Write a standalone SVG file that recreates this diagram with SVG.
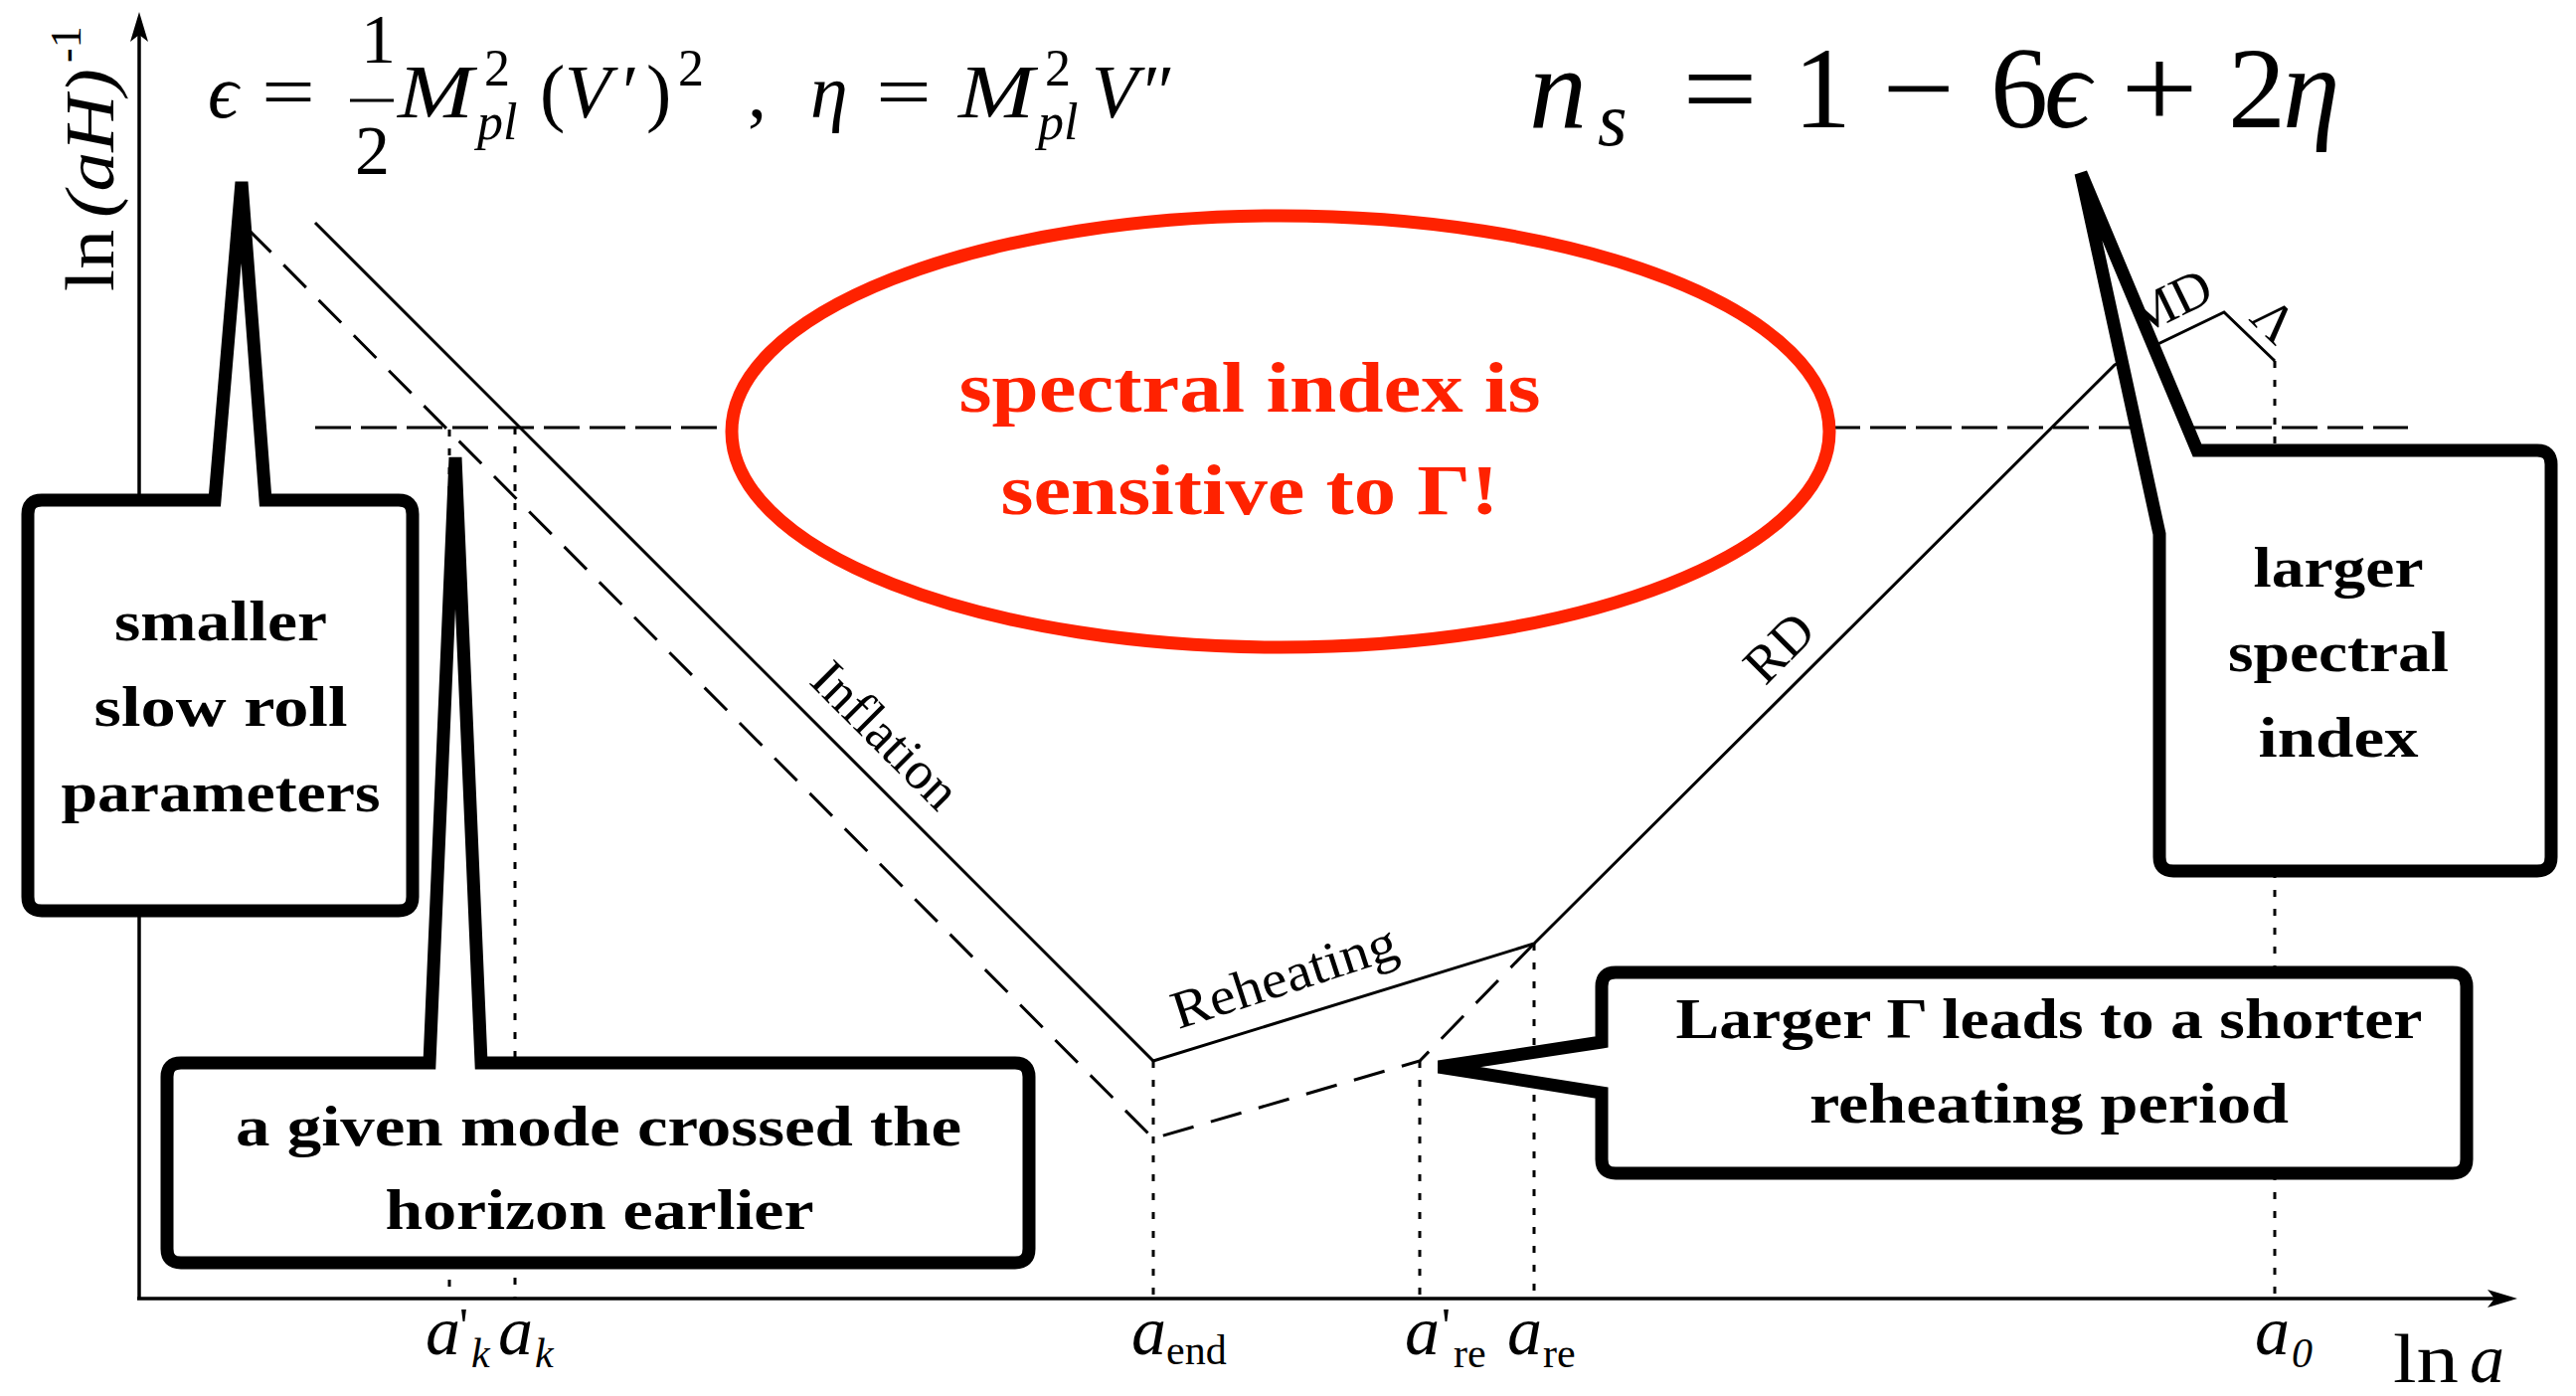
<svg xmlns="http://www.w3.org/2000/svg" width="2591" height="1404" viewBox="0 0 2591 1404">
<style>
.ax{stroke:#000;stroke-width:3.5;fill:none}
.sol{stroke:#000;stroke-width:3;fill:none;stroke-linejoin:miter}
.dsh{stroke:#000;stroke-width:3;fill:none;stroke-dasharray:32 18}
.hdsh{stroke:#000;stroke-width:3;fill:none;stroke-dasharray:36 10}
.dot{stroke:#000;stroke-width:3;fill:none;stroke-dasharray:7 12}
.box{fill:#fff;stroke:#000;stroke-width:13;stroke-linejoin:miter;stroke-miterlimit:4}
.red{fill:#fff;stroke:#ff2200;stroke-width:13}
.bt{font-family:"Liberation Serif",serif;font-weight:bold;font-size:58px;text-anchor:middle;fill:#000}
.rt{font-family:"Liberation Serif",serif;font-weight:bold;font-size:72px;text-anchor:middle;fill:#ff2200}
.lab{font-family:"Liberation Serif",serif;font-size:54px;text-anchor:middle;fill:#000}
.m{font-family:"Liberation Serif","DejaVu Serif",serif;fill:#000}
.i{font-style:italic}
</style>
<defs>
<marker id="arr" viewBox="0 0 30 20" refX="24" refY="10" markerWidth="30" markerHeight="20" markerUnits="userSpaceOnUse" orient="auto">
<path d="M0,1 L30,10 L0,19 L7,10 Z" fill="#000"/>
</marker>
</defs>

<g id="axes">
<line class="ax" x1="140" y1="1306" x2="140" y2="18" marker-end="url(#arr)"/>
<line class="ax" x1="138" y1="1306" x2="2526" y2="1306" marker-end="url(#arr)"/>
</g>

<g id="connectors">
<line class="hdsh" x1="317" y1="430" x2="2422" y2="430"/>
<line class="dot" x1="452" y1="432" x2="452" y2="1306"/>
<line class="dot" x1="518" y1="430" x2="518" y2="1306"/>
<line class="dot" x1="1160" y1="1067" x2="1160" y2="1306"/>
<line class="dot" x1="1428" y1="1067" x2="1428" y2="1306"/>
<line class="dot" x1="1543" y1="949" x2="1543" y2="1306"/>
<line class="dot" x1="2288" y1="363" x2="2288" y2="1306"/>
<polyline class="dsh" points="250,231 1160,1145 1428,1067 1543,949"/>
<polyline class="sol" points="317,224 1160,1067 1543,949 2127,367 2237,314 2288,363"/>
</g>

<g id="phase-labels">
<text class="lab" transform="translate(878,752) rotate(45)" textLength="185" lengthAdjust="spacingAndGlyphs">Inflation</text>
<text class="lab" transform="translate(1297,999) rotate(-18)" textLength="235" lengthAdjust="spacingAndGlyphs">Reheating</text>
<text class="lab" transform="translate(1802,664) rotate(-45)">RD</text>
<text class="lab" transform="translate(2190,320) rotate(-26)">MD</text>
<text class="lab" transform="translate(2275,335) rotate(44)">Λ</text>
</g>

<g id="node-sensitive">
<ellipse class="red" cx="1288" cy="434" rx="552" ry="217"/>
<text class="rt" x="1257" y="414" textLength="585" lengthAdjust="spacingAndGlyphs">spectral index is</text>
<text class="rt" x="1257" y="517" textLength="501" lengthAdjust="spacingAndGlyphs">sensitive to Γ!</text>
</g>

<g id="node-slowroll">
<path class="box" d="M216,503 L243,183 L267,503 L401,503 Q415,503 415,517 L415,902 Q415,916 401,916 L42,916 Q28,916 28,902 L28,517 Q28,503 42,503 Z"/>
<text class="bt" x="222" y="644" textLength="214" lengthAdjust="spacingAndGlyphs">smaller</text>
<text class="bt" x="222" y="730" textLength="255" lengthAdjust="spacingAndGlyphs">slow roll</text>
<text class="bt" x="222" y="816" textLength="321" lengthAdjust="spacingAndGlyphs">parameters</text>
</g>

<g id="node-mode">
<path class="box" d="M432,1069 L458,460 L484,1069 L1021,1069 Q1035,1069 1035,1083 L1035,1256 Q1035,1270 1021,1270 L182,1270 Q168,1270 168,1256 L168,1083 Q168,1069 182,1069 Z"/>
<text class="bt" x="602" y="1152" textLength="730" lengthAdjust="spacingAndGlyphs">a given mode crossed the</text>
<text class="bt" x="603" y="1236" textLength="431" lengthAdjust="spacingAndGlyphs">horizon earlier</text>
</g>

<g id="node-larger-index">
<path class="box" d="M2093,174 L2210,453 L2552,453 Q2566,453 2566,467 L2566,862 Q2566,876 2552,876 L2186,876 Q2172,876 2172,862 L2172,537 Z"/>
<text class="bt" x="2352" y="590" textLength="171" lengthAdjust="spacingAndGlyphs">larger</text>
<text class="bt" x="2352" y="675" textLength="222" lengthAdjust="spacingAndGlyphs">spectral</text>
<text class="bt" x="2352" y="761" textLength="161" lengthAdjust="spacingAndGlyphs">index</text>
</g>

<g id="node-reheating">
<path class="box" d="M1611,1048 L1447,1073 L1611,1099 L1611,1166 Q1611,1180 1625,1180 L2467,1180 Q2481,1180 2481,1166 L2481,992 Q2481,978 2467,978 L1625,978 Q1611,978 1611,992 Z"/>
<text class="bt" x="2061" y="1044" textLength="751" lengthAdjust="spacingAndGlyphs">Larger Γ leads to a shorter</text>
<text class="bt" x="2061" y="1129" textLength="482" lengthAdjust="spacingAndGlyphs">reheating period</text>
</g>

<g id="formula-slowroll" class="m" font-size="76">
<text x="209" y="118" class="m i">ϵ</text>
<text x="263" y="118" class="m" textLength="54" lengthAdjust="spacingAndGlyphs">=</text>
<text x="363" y="63" class="m" font-size="70">1</text>
<line x1="352" y1="101" x2="396" y2="101" stroke="#000" stroke-width="3"/>
<text x="357" y="175" class="m" font-size="70">2</text>
<text x="400" y="118" class="m i" textLength="76" lengthAdjust="spacingAndGlyphs">M</text>
<text x="487" y="86" class="m" font-size="52">2</text>
<text x="480" y="140" class="m i" font-size="52">pl</text>
<text x="543" y="118" class="m">(</text>
<text x="568" y="118" class="m i">V</text>
<text x="626" y="118" class="m">′</text>
<text x="650" y="118" class="m">)</text>
<text x="682" y="86" class="m" font-size="52">2</text>
<text x="752" y="118" class="m">,</text>
<text x="815" y="118" class="m i">η</text>
<text x="881" y="118" class="m" textLength="56" lengthAdjust="spacingAndGlyphs">=</text>
<text x="964" y="118" class="m i" textLength="76" lengthAdjust="spacingAndGlyphs">M</text>
<text x="1051" y="86" class="m" font-size="52">2</text>
<text x="1044" y="140" class="m i" font-size="52">pl</text>
<text x="1098" y="118" class="m i">V</text>
<text x="1150" y="118" class="m">″</text>
</g>

<g id="formula-ns" class="m" font-size="116">
<text x="1538" y="128" class="m i">n</text>
<text x="1607" y="146" class="m i" font-size="76">s</text>
<text x="1692" y="128" class="m" textLength="76" lengthAdjust="spacingAndGlyphs">=</text>
<text x="1804" y="128" class="m">1</text>
<text x="1893" y="128" class="m" textLength="73" lengthAdjust="spacingAndGlyphs">−</text>
<text x="2002" y="128" class="m">6</text>
<text x="2056" y="128" class="m i">ϵ</text>
<text x="2133" y="128" class="m" textLength="78" lengthAdjust="spacingAndGlyphs">+</text>
<text x="2241" y="128" class="m">2</text>
<text x="2296" y="128" class="m i">η</text>
</g>

<g id="axis-labels" class="m">
<g transform="translate(114,293) rotate(-90)">
<text x="0" y="0" class="m" font-size="70" textLength="62" lengthAdjust="spacingAndGlyphs">ln</text>
<text x="74" y="0" class="m i" font-size="70" textLength="150" lengthAdjust="spacingAndGlyphs">(aH)</text>
<text x="230" y="-33" class="m" font-size="44">-1</text>
</g>
<text x="2407" y="1390" class="m" font-size="70" textLength="66" lengthAdjust="spacingAndGlyphs">ln</text>
<text x="2484" y="1390" class="m i" font-size="70">a</text>
</g>

<g id="tick-labels" class="m">
<text x="428" y="1362" class="m i" font-size="70">a</text>
<text x="462" y="1350" class="m" font-size="50">'</text>
<text x="474" y="1375" class="m i" font-size="42">k</text>
<text x="501" y="1362" class="m i" font-size="70">a</text>
<text x="538" y="1375" class="m i" font-size="42">k</text>
<text x="1138" y="1362" class="m i" font-size="70">a</text>
<text x="1173" y="1372" class="m" font-size="42">end</text>
<text x="1413" y="1362" class="m i" font-size="70">a</text>
<text x="1450" y="1350" class="m" font-size="50">'</text>
<text x="1462" y="1375" class="m" font-size="42">re</text>
<text x="1516" y="1362" class="m i" font-size="70">a</text>
<text x="1552" y="1375" class="m" font-size="42">re</text>
<text x="2268" y="1362" class="m i" font-size="70">a</text>
<text x="2305" y="1375" class="m i" font-size="42">0</text>
</g>
</svg>
